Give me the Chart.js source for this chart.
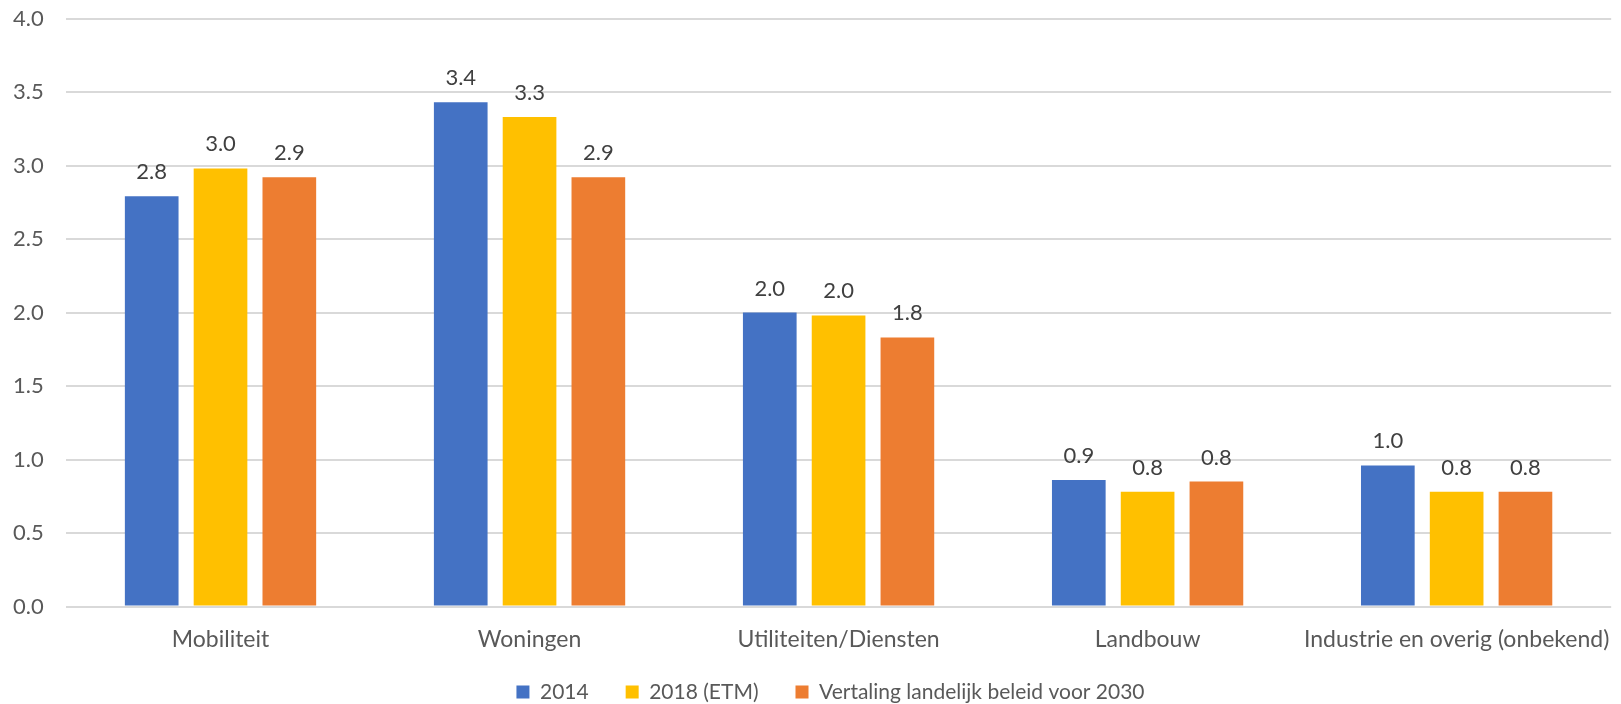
<!DOCTYPE html>
<html>
<head>
<meta charset="utf-8">
<script src="https://cdn.jsdelivr.net/npm/chart.js@4"></script>
<style>
  html, body { margin: 0; padding: 0; background: #ffffff; }
  #wrap { width: 1621px; height: 704px; }
</style>
</head>
<body>
<div id="wrap"><canvas id="chart"></canvas></div>
<script>
// Categories (sectors) and series
const categories = ['Mobiliteit', 'Woningen', 'Utiliteiten/Diensten', 'Landbouw', 'Industrie en overig (onbekend)'];
const seriesNames = ['2014', '2018 (ETM)', 'Vertaling landelijk beleid voor 2030'];

// Values per series, in category order
const values2014 = [2.79, 3.43, 2.00, 0.86, 0.96];
const values2018 = [2.98, 3.33, 1.98, 0.78, 0.78];
const values2030 = [2.92, 2.92, 1.83, 0.85, 0.78];

// Value axis ticks
const yTicks = [0, 0.5, 1.0, 1.5, 2.0, 2.5, 3.0, 3.5, 4.0];

const seriesColors = ['#4472C4', '#FFC000', '#ED7D31'];
const FONT = 'Lato';
const X_AXIS_HEIGHT = 50;
const LEGEND_HEIGHT = 47.5;
const LEGEND_RAISE = 12;
const LEGEND_SHIFT_X = 17;

// Writes each bar's value (one decimal) above the bar
const barValueLabels = {
  id: 'barValueLabels',
  afterDatasetsDraw(chart) {
    const ctx = chart.ctx;
    ctx.save();
    ctx.font = '22px ' + FONT;
    ctx.fillStyle = '#404040';
    ctx.textAlign = 'center';
    ctx.textBaseline = 'alphabetic';
    chart.data.datasets.forEach((ds, i) => {
      chart.getDatasetMeta(i).data.forEach((bar, j) => {
        ctx.fillText(ds.data[j].toFixed(1), bar.x, bar.y - 17);
      });
    });
    ctx.restore();
  }
};

// Fixed-height legend band, drawn slightly up (close under the axis labels) and a bit to the right
const legendBand = {
  id: 'legendBand',
  beforeInit(chart) {
    const legend = chart.legend;
    const fit = legend.fit;
    legend.fit = function () {
      fit.call(this);
      this.height = LEGEND_HEIGHT;
    };
  },
  afterLayout(chart) {
    const legend = chart.legend;
    legend.top -= LEGEND_RAISE;
    legend.left += LEGEND_SHIFT_X;
    legend.right += LEGEND_SHIFT_X;
  }
};

const seriesData = [values2014, values2018, values2030];

new Chart(document.getElementById('chart'), {
  type: 'bar',
  data: {
    labels: categories,
    datasets: seriesNames.map((name, i) => ({
      label: name,
      data: seriesData[i],
      backgroundColor: seriesColors[i],
      borderWidth: 0,
      categoryPercentage: 0.668,
      barPercentage: 0.78
    }))
  },
  options: {
    responsive: true,
    maintainAspectRatio: false,
    animation: false,
    layout: { padding: { top: 18.5, right: 7, bottom: 0, left: 13 } },
    plugins: {
      tooltip: { enabled: false },
      legend: {
        position: 'bottom',
        labels: {
          boxWidth: 13,
          boxHeight: 13,
          padding: 37,
          color: '#595959',
          font: { family: FONT, size: 21 }
        }
      }
    },
    scales: {
      x: {
        grid: { display: false },
        border: { display: false },
        ticks: { color: '#595959', padding: 11, font: { family: FONT, size: 23 }, maxRotation: 0 },
        afterFit(scale) { scale.height = X_AXIS_HEIGHT; }
      },
      y: {
        min: 0,
        max: 4,
        afterBuildTicks(scale) { scale.ticks = yTicks.map(v => ({ value: v })); },
        grid: { color: '#d9d9d9', lineWidth: 2, drawTicks: false },
        border: { display: false },
        ticks: {
          color: '#595959',
          padding: 0,
          crossAlign: 'far',
          font: { family: FONT, size: 22 },
          callback: v => Number(v).toFixed(1)
        },
        afterFit(scale) { scale.width = 53; }
      }
    }
  },
  plugins: [barValueLabels, legendBand]
});
</script>
</body>
</html>
